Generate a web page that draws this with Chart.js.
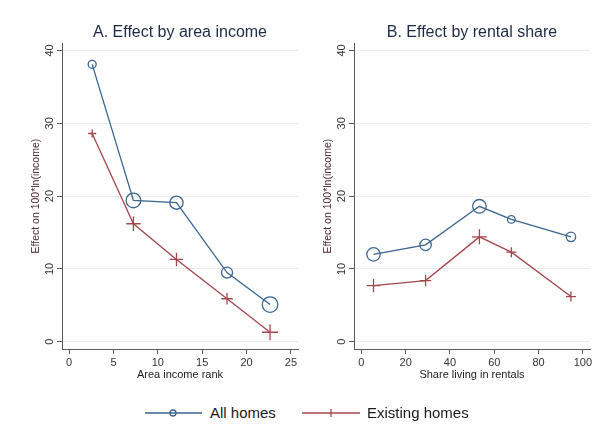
<!DOCTYPE html>
<html>
<head>
<meta charset="utf-8">
<script src="https://cdn.jsdelivr.net/npm/chart.js@4"></script>
<style>
  html, body { margin: 0; padding: 0; background: #fff; }
  #wrap { position: relative; width: 603px; height: 439px; overflow: hidden; }
  .panel { position: absolute; top: 0; width: 302px; height: 392px; }
  #legend { position: absolute; top: 402px; left: 0; width: 603px; height: 22px;
            font: 15px "Liberation Sans", Arial, sans-serif; color: #1a1a1a; }
  .item { position: absolute; top: 0; height: 22px; line-height: 22px; }
  .item svg { position: absolute; top: 0; left: 0; }
  .item span { position: absolute; top: 0; white-space: nowrap; }
</style>
</head>
<body>
<div id="wrap">
  <div class="panel" style="left:0"><canvas id="chartA" width="302" height="392"></canvas></div>
  <div class="panel" style="left:292px"><canvas id="chartB" width="302" height="392"></canvas></div>
  <div id="legend">
    <div class="item" style="left:145px">
      <svg width="58" height="22"><line x1="0" y1="11" x2="57" y2="11" stroke="#3b6590" stroke-width="1.3"/>
        <circle cx="28" cy="11" r="3" fill="none" stroke="#3b6590" stroke-width="1.3"/></svg>
      <span style="left:65px">All homes</span>
    </div>
    <div class="item" style="left:302px">
      <svg width="58" height="22"><line x1="0" y1="11" x2="58" y2="11" stroke="#a3474f" stroke-width="1.3"/>
        <line x1="29" y1="7" x2="29" y2="15" stroke="#a3474f" stroke-width="1.3"/></svg>
      <span style="left:65px">Existing homes</span>
    </div>
  </div>
</div>
<script>
// Panel A: effect by area income rank
const incomeRank = [2.6, 7.25, 12.1, 17.8, 22.65];
const incomeAll = [38.1, 19.4, 19.1, 9.5, 5.1];
const incomeExisting = [28.6, 16.2, 11.3, 5.9, 1.3];
const incomeAllSize = [4, 7.3, 6.6, 5.5, 7.8];
const incomeExistingSize = [4, 7.2, 6.7, 5.7, 8];

// Panel B: effect by rental share
const rentalShare = [5.5, 29, 53.3, 67.7, 94.6];
const rentalAll = [12.0, 13.3, 18.6, 16.8, 14.4];
const rentalExisting = [7.7, 8.4, 14.4, 12.3, 6.2];
const rentalAllSize = [6.7, 5.7, 6.8, 3.8, 4.7];
const rentalExistingSize = [6.7, 5.7, 7.5, 5, 5];

const yTicks = [0, 10, 20, 30, 40];
const incomeTicks = [0, 5, 10, 15, 20, 25];
const rentalTicks = [0, 20, 40, 60, 80, 100];

const BLUE = '#3b6590';
const RED = '#a3474f';
const AXIS = '#5a5a5a';
const GRID = '#e8eeee';
const FONT = '"Liberation Sans", Arial, sans-serif';

// y tick labels are drawn rotated, like the original
const rotatedYLabels = {
    id: 'rotatedYLabels',
    afterDraw(chart) {
        const s = chart.scales.y;
        const ctx = chart.ctx;
        ctx.save();
        ctx.fillStyle = '#333';
        ctx.font = '11px ' + FONT;
        ctx.textAlign = 'center';
        ctx.textBaseline = 'middle';
        s.ticks.forEach(t => {
            const y = s.getPixelForValue(t.value);
            ctx.save();
            ctx.translate(s.right - 12, y);
            ctx.rotate(-Math.PI / 2);
            ctx.fillText(String(t.value), 0, 0);
            ctx.restore();
        });
        ctx.restore();
    }
};

function pairs(xs, ys) {
    return xs.map((x, i) => ({ x: x, y: ys[i] }));
}

function makePanel(canvasId, title, xTitle, xs, allVals, exVals, allSize, exSize, xTicks, xMin, xMax) {
    return new Chart(document.getElementById(canvasId), {
        type: 'line',
        data: {
            datasets: [{
                label: 'All homes',
                data: pairs(xs, allVals),
                borderColor: BLUE,
                borderWidth: 1.3,
                pointStyle: 'circle',
                pointRadius: allSize,
                pointBorderColor: BLUE,
                pointBackgroundColor: 'rgba(0,0,0,0)',
                pointBorderWidth: 1.3,
                tension: 0
            }, {
                label: 'Existing homes',
                data: pairs(xs, exVals),
                borderColor: RED,
                borderWidth: 1.3,
                pointStyle: 'cross',
                pointRadius: exSize,
                pointBorderColor: RED,
                pointBorderWidth: 1.3,
                tension: 0
            }]
        },
        options: {
            responsive: false,
            animation: false,
            events: [],
            layout: { autoPadding: false, padding: { left: 26, right: 4, top: 23, bottom: 0 } },
            plugins: {
                legend: { display: false },
                tooltip: { enabled: false },
                title: {
                    display: true,
                    text: title,
                    fullSize: false,
                    color: '#1e2a44',
                    font: { family: FONT, size: 16, weight: 'normal' },
                    padding: { top: 0, bottom: 1 }
                }
            },
            scales: {
                x: {
                    type: 'linear',
                    min: xMin,
                    max: xMax,
                    afterBuildTicks: s => { s.ticks = xTicks.map(v => ({ value: v })); },
                    afterFit: s => { s.height = 43; s.paddingLeft = 0; s.paddingRight = 0; },
                    grid: { drawOnChartArea: false, tickLength: 5, tickColor: AXIS },
                    border: { color: AXIS, width: 1 },
                    ticks: { color: '#333', font: { family: FONT, size: 11 }, padding: 2, maxRotation: 0 },
                    title: { display: true, text: xTitle, color: '#222',
                             font: { family: FONT, size: 11 }, padding: { top: 0, bottom: 10 } }
                },
                y: {
                    type: 'linear',
                    min: -1,
                    max: 41,
                    afterBuildTicks: s => { s.ticks = yTicks.map(v => ({ value: v })); },
                    afterFit: s => { s.width = 36; s.paddingTop = 0; s.paddingBottom = 0; },
                    grid: { color: GRID, lineWidth: 1, tickLength: 5, tickColor: AXIS },
                    border: { color: AXIS, width: 1 },
                    ticks: { display: false },
                    title: { display: true, text: 'Effect on 100*ln(income)', color: '#4a2a30',
                             font: { family: FONT, size: 10.5 }, padding: { top: 4, bottom: 0 } }
                }
            }
        },
        plugins: [rotatedYLabels]
    });
}

makePanel('chartA', 'A. Effect by area income', 'Area income rank',
    incomeRank, incomeAll, incomeExisting, incomeAllSize, incomeExistingSize, incomeTicks, -0.8, 25.8);
makePanel('chartB', 'B. Effect by rental share', 'Share living in rentals',
    rentalShare, rentalAll, rentalExisting, rentalAllSize, rentalExistingSize, rentalTicks, -3.3, 103.2);
</script>
</body>
</html>
